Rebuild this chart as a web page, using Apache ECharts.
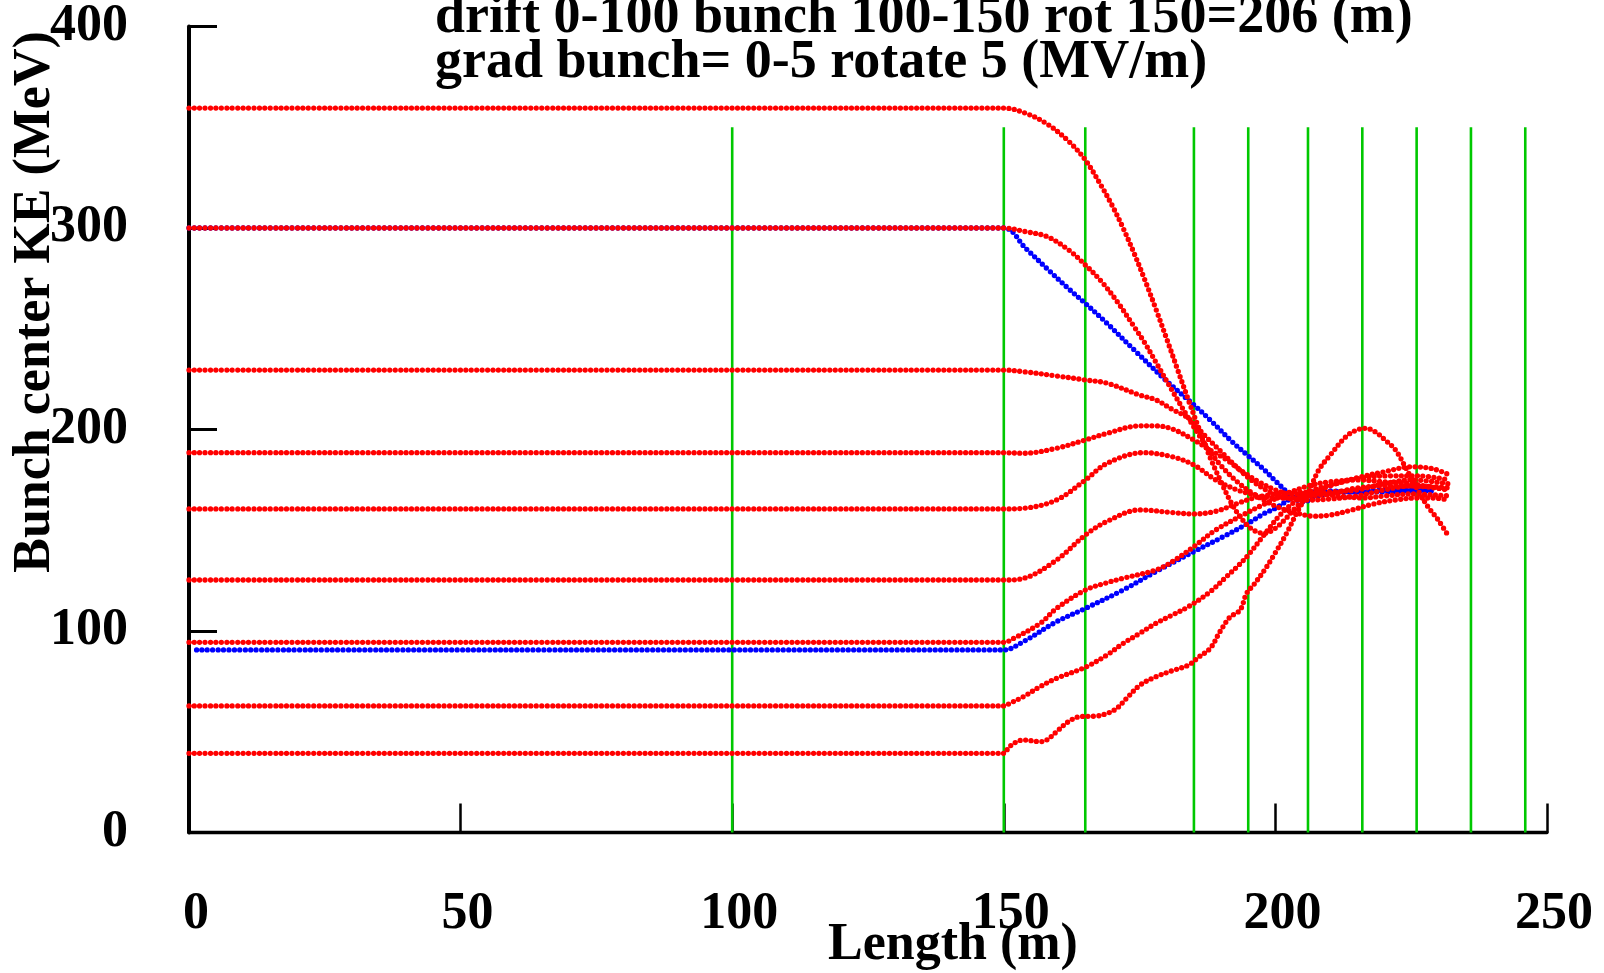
<!DOCTYPE html>
<html>
<head>
<meta charset="utf-8">
<script src="https://cdn.jsdelivr.net/npm/echarts@6/dist/echarts.min.js"></script>
<style>
html,body{margin:0;padding:0;background:#fff;}
#c{width:1604px;height:973px;}
</style>
</head>
<body>
<div id="c"></div>
<script>
// ---- data ----
const titleLines = ['drift 0-100 bunch 100-150 rot 150=206 (m)', 'grad bunch= 0-5 rotate 5 (MV/m)'];
const xName = 'Length (m)';
const yName = 'Bunch center KE (MeV)';
const xTicks = [0, 50, 100, 150, 200, 250];
const yTicks = [0, 100, 200, 300, 400];
const greenX = [100, 150, 165, 185, 195, 206, 216, 226, 236, 246];
const greenTop = 350;

// blue reference trajectories
const blue300 = [[0,300],[150,300],[154,290],[158,279.7],[162,269.7],[165,262.6],[169,252.7],[174,239.5],[180,224],[185,212.2],[188,204.7],[192,194],[195,186.9],[198,179.9],[200,174.5],[203,167],[205,164],[207,166],[210,168.5],[215,169],[220,169],[225,169.5],[229,169.5]];
const blue91 = [[1.4,90.6],[150,90.6],[153.6,94.7],[159.7,104.6],[165,111.2],[172,120.4],[178,129.5],[185,139.4],[190.4,146.8],[195,153.5],[198,158.4],[200,160.9],[203,165.9],[206,168.5],[210,169.5],[215,169],[220,170],[225,170],[229,170]];

// red trajectories
const red360 = [[0,359.5],[150,359.5],[154,357],[158,351.6],[162,342.9],[165,333.8],[168,320.7],[170,310.9],[172,299.8],[174,287.4],[176,274],[178,259.8],[180,244.9],[182,229.7],[184,214.5],[186,200],[188,186],[190,174],[192,163],[194,155],[196,150],[198,148.5],[200,151],[202,156],[204,162],[207,168],[210,172],[215,176],[220,179],[225,181.5],[229,180.5],[232,177.5]];
const red300 = [[0,300],[150,300],[154,298.2],[158,295.7],[162,289],[165,281.7],[168,273.4],[171,263],[174,251],[176,242.8],[178,233.4],[181,219.3],[184,205.6],[186,197],[188,189],[190,182],[193,174],[196,168],[200,162],[204,158.5],[207,157],[210,157.5],[214,160],[218,163],[222,165],[226,166],[229,166],[232,165]];
const red230 = [[0,229.5],[150,229.5],[153.6,228.7],[159.7,226.6],[165,224.6],[169,223],[175,217.1],[178,214.7],[181,210],[184,205.6],[187,197],[190,189],[193,181],[196,174],[199,169],[202,166],[206,165],[210,165.5],[215,167],[220,170],[225,172],[232,171]];
const red189 = [[0,188.5],[150,188.5],[153.6,188.2],[159.7,190.7],[165,194.8],[169,198.1],[175,201.8],[178,201.8],[181,200.3],[185,194.8],[188,189.8],[191,185],[194,179],[197,174],[200,170],[203,168],[206,168],[210,169],[215,170],[220,173],[225,175],[232,173]];
const red161 = [[0,160.6],[150,160.6],[153.6,160.9],[159.7,165],[165,174.9],[169,183.2],[175.7,188.5],[181,186.5],[185,182.4],[189,175],[193,170],[197,167],[200,166],[203,166],[206,167],[210,168],[215,171],[220,172],[225,172],[232,170]];
const red125 = [[0,125.3],[150,125.3],[153.6,126.1],[159.7,135.2],[165,147.6],[169,154.4],[175,160.1],[181,158.8],[185,158.1],[189,159.4],[193,163.3],[196,166],[200,168],[204,169],[208,168],[212,167],[216,166],[220,167],[225,168],[232,167]];
const red94 = [[0,94.4],[150,94.4],[151.8,96.3],[156.7,103.8],[159.7,111.2],[165,120.3],[169,124],[172,126.2],[178,130.3],[181,134.4],[185,141.9],[189,150.1],[194,157.6],[198,163],[202,168],[206,172],[210,174],[215,175],[220,174],[225,173],[232,170]];
const red63 = [[0,62.8],[150,62.8],[151.1,64.1],[153.6,67.4],[156.7,72.4],[159.7,76.5],[165,82],[169,88.1],[172,93.9],[175,98.8],[178,103.8],[181,107.9],[184,112.1],[188,119.5],[191,127],[193,132],[195,137.7],[198,148],[201,158],[204,165],[207,170],[211,173],[216,176],[221,177],[226,177],[232,175]];
const red39 = [[0,39.3],[150,39.3],[150.8,41.8],[151.8,44.2],[153.6,45.9],[156.7,45.1],[157.9,45.9],[159.7,50],[161.9,55],[164,57.5],[167.1,57.8],[169,59.1],[170.8,61.6],[172.6,66.6],[175.1,73.2],[178,77.3],[181,80.3],[184,83.1],[185.8,86.9],[188,91.4],[189.8,99.7],[191.6,106.8],[193.5,110.4],[194.7,118.7],[196,122.9],[198,130.3],[200,138.9],[202,148.2],[204,159],[206,168.4],[208,180],[210,187],[213,196.5],[215,199.8],[216.6,200.6],[218.3,199],[220.2,194.8],[222.1,189.9],[224,181],[226,171],[228,162],[230,155],[232,146.5]];

const blueSets = [blue300, blue91];
const redSets = [red360, red300, red230, red189, red161, red125, red94, red63, red39];

// ---- chart ----
const FONT = "'Liberation Serif', 'DejaVu Serif', serif";
const chart = echarts.init(document.getElementById('c'), null, {renderer: 'canvas'});

function dotted(data, color, z) {
  return {
    type: 'line', data: data, smooth: 0.35, symbol: 'none', showSymbol: false,
    animation: false, silent: true, z: z,
    lineStyle: {color: color, width: 5.3, type: [0, 5.43], cap: 'round'}
  };
}

const series = [];
greenX.forEach(function (x) {
  series.push({type: 'line', data: [[x, 0], [x, greenTop]], symbol: 'none', animation: false, silent: true, z: 1,
    lineStyle: {color: '#00c800', width: 2.6}});
});
blueSets.forEach(function (d) { series.push(dotted(d, '#0000ff', 2)); });
redSets.forEach(function (d) { series.push(dotted(d, '#ff0000', 3)); });

const labelStyle = {fontFamily: FONT, fontWeight: 'bold', fontSize: 52, color: '#000'};

chart.setOption({
  animation: false,
  backgroundColor: '#fff',
  grid: {left: 189, right: 57, top: 26.5, bottom: 140.5, containLabel: false},
  xAxis: {
    type: 'value', min: xTicks[0], max: xTicks[xTicks.length - 1], interval: 50,
    axisLine: {show: true, lineStyle: {color: '#000', width: 3.3}},
    axisTick: {show: true, inside: true, length: 29, lineStyle: {color: '#000', width: 2.5}},
    splitLine: {show: false},
    axisLabel: Object.assign({margin: 56, padding: [0, 0, 0, 14]}, labelStyle)
  },
  yAxis: {
    type: 'value', min: yTicks[0], max: yTicks[yTicks.length - 1], interval: 100,
    axisLine: {show: true, lineStyle: {color: '#000', width: 4}},
    axisTick: {show: true, inside: true, length: 28, lineStyle: {color: '#000', width: 3}},
    splitLine: {show: false},
    axisLabel: Object.assign({margin: 61}, labelStyle)
  },
  graphic: [
    {type: 'text', left: 435, top: -9, silent: true,
      style: {text: titleLines[0], font: "bold 54px " + FONT, fill: '#000'}},
    {type: 'text', left: 435, top: 36, silent: true,
      style: {text: titleLines[1], font: "bold 54px " + FONT, fill: '#000'}},
    {type: 'text', x: 36, y: 302, rotation: Math.PI / 2, silent: true,
      style: {text: yName, font: "bold 52px " + FONT, fill: '#000', align: 'center', verticalAlign: 'middle'}},
    {type: 'text', x: 953, y: 946, silent: true,
      style: {text: xName, font: "bold 52px " + FONT, fill: '#000', align: 'center', verticalAlign: 'middle'}}
  ],
  series: series
});
</script>
</body>
</html>
